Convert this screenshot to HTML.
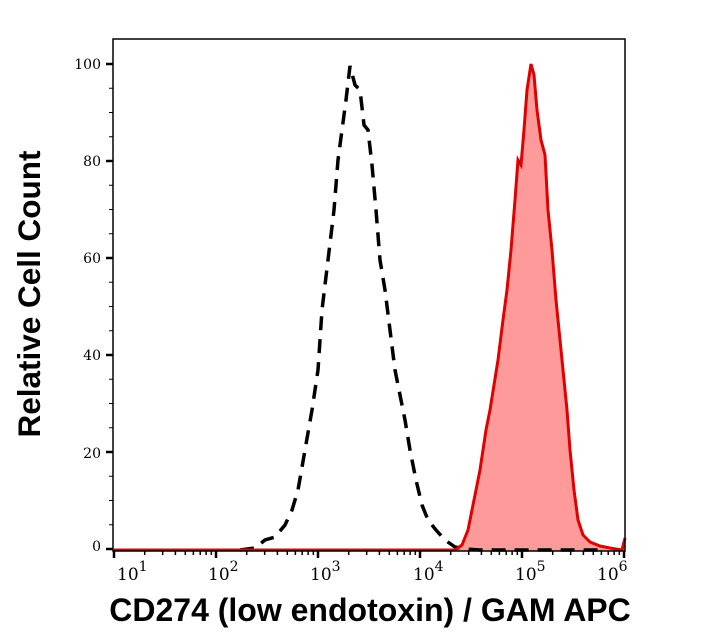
<!DOCTYPE html>
<html><head><meta charset="utf-8"><style>
body{margin:0;background:#fff;}
svg{display:block}
</style></head><body>
<svg width="722" height="641" xmlns="http://www.w3.org/2000/svg">
<rect width="722" height="641" fill="#fff"/>
<g id="ticks" stroke="#000" stroke-width="2"></g>
<polygon fill="#ff9a9a" stroke="none" points="455,551 455,549 462,545 468,530 474,500 480,470 486,430 490,410 494,385 498,360 503,320 507,290 511,250 515,200 518,160 521,165 524,130 527,90 531,64 534,75 537,110 541,140 545,155 548,210 552,250 556,300 560,340 564,380 567,410 570,450 574,490 578,520 583,535 590,542 600,546 610,548 622,550 625,538 625,551"/>
<polyline fill="none" stroke="#000" stroke-width="3.5" stroke-dasharray="14,9" points="240,550 255,548 265,540 275,537 285,525 292,510 298,490 305,450 312,410 318,370 322,310 328,260 334,210 338,160 342,130 346,100 350,66 355,85 360,90 364,125 368,130 372,165 376,210 380,260 385,290 390,330 395,370 400,395 405,420 410,450 416,480 422,505 428,520 436,530 445,540 455,547 465,549 480,550 600,550"/>
<polyline fill="none" stroke="#e00000" stroke-width="3" points="114,550 455,550 462,545 468,530 474,500 480,470 486,430 490,410 494,385 498,360 503,320 507,290 511,250 515,200 518,160 521,165 524,130 527,90 531,64 534,75 537,110 541,140 545,155 548,210 552,250 556,300 560,340 564,380 567,410 570,450 574,490 578,520 583,535 590,542 600,546 610,548 622,550 625,538"/>
<rect x="113" y="39" width="512" height="512" fill="none" stroke="#000" stroke-width="1.5"/>
<g font-family="'DejaVu Serif','Liberation Serif',serif" font-size="14" fill="#000" text-anchor="end">
<text x="101" y="69">100</text><text x="101" y="166">80</text><text x="101" y="263">60</text>
<text x="101" y="360">40</text><text x="101" y="458">20</text><text x="101" y="551">0</text>
</g>
<g font-family="'DejaVu Serif','Liberation Serif',serif" fill="#000">
<text x="117" y="580" font-size="17">10<tspan font-size="14" dy="-9">1</tspan></text>
<text x="208" y="580" font-size="17">10<tspan font-size="14" dy="-9">2</tspan></text>
<text x="310" y="580" font-size="17">10<tspan font-size="14" dy="-9">3</tspan></text>
<text x="413" y="580" font-size="17">10<tspan font-size="14" dy="-9">4</tspan></text>
<text x="515" y="580" font-size="17">10<tspan font-size="14" dy="-9">5</tspan></text>
<text x="597" y="580" font-size="17">10<tspan font-size="14" dy="-9">6</tspan></text>
</g>
<text x="370" y="621" text-anchor="middle" font-family="'Liberation Sans',sans-serif" font-weight="bold" font-size="32">CD274 (low endotoxin) / GAM APC</text>
<text transform="translate(40,294) rotate(-90)" text-anchor="middle" font-family="'Liberation Sans',sans-serif" font-weight="bold" font-size="31.5">Relative Cell Count</text>
</svg>
<script>
var g=document.getElementById('ticks'),s='';
for(var i=0;i<=20;i++){var y=549-i*24.25;var M=(i%4==0);var L=M?7:4;s+='<line x1="'+(113-L)+'" y1="'+y+'" x2="113" y2="'+y+'" stroke-width="'+(M?2.5:1)+'"/>';}
for(var d=1;d<=6;d++){var x0=114+(d-1)*102;s+='<line x1="'+x0+'" y1="551" x2="'+x0+'" y2="558" stroke-width="2.5"/>';
if(d<6)for(var m=2;m<10;m++){var x=x0+102*Math.log10(m);s+='<line x1="'+x+'" y1="551" x2="'+x+'" y2="555" stroke-width="1.5"/>';}}
g.innerHTML=s;
</script>
</body></html>
